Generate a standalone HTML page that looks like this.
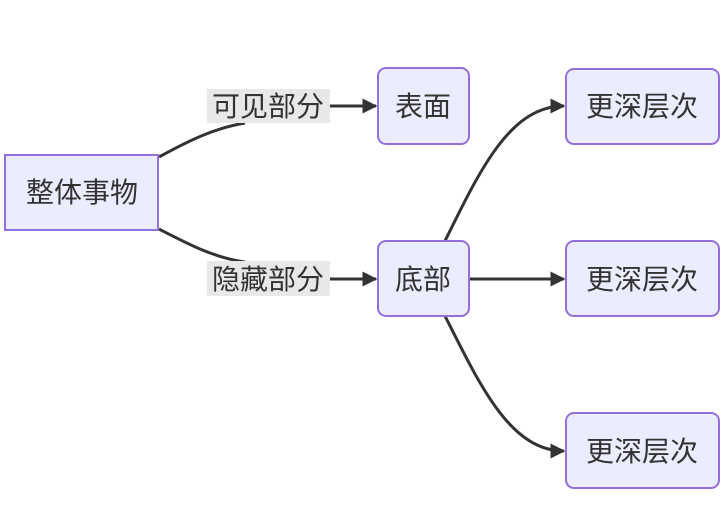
<!DOCTYPE html>
<html><head><meta charset="utf-8"><style>
html,body{margin:0;padding:0;background:#fff;}
svg{display:block;}
text{font-family:"Liberation Sans","Noto Sans CJK SC",sans-serif;font-size:28px;fill:#333;}
</style></head><body>
<svg width="726" height="521" viewBox="0 0 726 521" xmlns="http://www.w3.org/2000/svg">
<defs><marker id="a" viewBox="0 0 10 10" refX="9" refY="5" markerWidth="5" markerHeight="5" orient="auto"><path d="M0,0L10,5L0,10z" fill="#333"/></marker></defs>
<g fill="none" stroke="#333" stroke-width="3">
<path d="M159,157 C190,140 215,128 245,123"/>
<path d="M330,106 L376,106" marker-end="url(#a)"/>
<path d="M159,229 C190,245 215,258 245,262"/>
<path d="M330,279 L376,279" marker-end="url(#a)"/>
<path d="M445,241 C480,170 510,106 564,106" marker-end="url(#a)"/>
<path d="M469,279 L564,279" marker-end="url(#a)"/>
<path d="M445,316 C480,385 510,451 564,451" marker-end="url(#a)"/>
</g>
<rect x="207" y="89" width="123" height="34" fill="#e8e8e8"/>
<rect x="207" y="261" width="123" height="35" fill="#e8e8e8"/>
<text x="268" y="116" text-anchor="middle">可见部分</text>
<text x="268" y="289" text-anchor="middle">隐藏部分</text>
<g fill="#ececff" stroke="#9370db" stroke-width="2">
<rect x="5" y="155" width="153" height="75"/>
<rect x="378" y="68" width="91" height="76" rx="8"/>
<rect x="378" y="241" width="91" height="75" rx="8"/>
<rect x="566" y="69" width="153" height="75" rx="8"/>
<rect x="566" y="241" width="153" height="75" rx="8"/>
<rect x="566" y="413" width="153" height="75" rx="8"/>
</g>
<text x="82" y="202" text-anchor="middle">整体事物</text>
<text x="423" y="116" text-anchor="middle">表面</text>
<text x="423" y="289" text-anchor="middle">底部</text>
<text x="642" y="116" text-anchor="middle">更深层次</text>
<text x="642" y="289" text-anchor="middle">更深层次</text>
<text x="642" y="461" text-anchor="middle">更深层次</text>
</svg>
</body></html>
